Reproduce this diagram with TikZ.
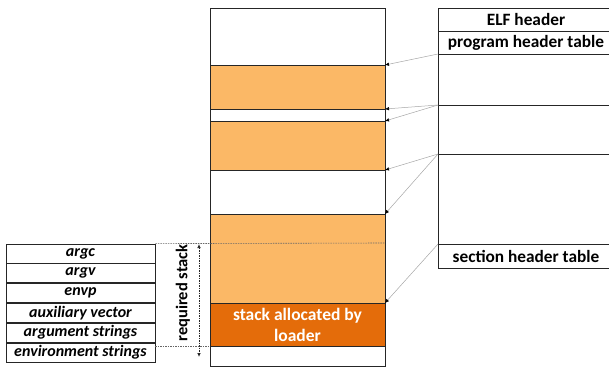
\documentclass[tikz,border=0pt]{standalone}
\usepackage{fontspec}
\setmainfont{Carlito}
\usepackage{xcolor}
\usetikzlibrary{positioning,arrows.meta}

\definecolor{segorange}{HTML}{FBB866}
\definecolor{stackorange}{HTML}{E46C0A}

\tikzset{
	seg/.style={draw=black!85, line width=0.8pt},
	loadseg/.style={seg, fill=segorange},
	maparrow/.style={draw=black!35, line width=0.5pt, -{Latex[length=4pt,width=3.5pt,color=black]}},
	stackline/.style={draw=black!60, line width=0.6pt, dash pattern=on 1.5pt off 1pt},
	auxrow/.style={draw=black!85, line width=0.8pt, minimum width=149pt, minimum height=19pt, inner sep=0pt,
		font=\fontsize{16}{18}\selectfont\bfseries\itshape},
	elflabel/.style={font=\fontsize{17.3}{19}\selectfont\bfseries},
}

\begin{document}
\begin{tikzpicture}[x=1pt,y=-1pt]
		\useasboundingbox (0,0) rectangle (609,367);
		% process image
		\draw[seg] (210,8) rectangle (385,366);
		\draw[loadseg] (210,65) rectangle (385,109);
		\draw[loadseg] (210,121) rectangle (385,170);
		\draw[loadseg] (210,214) rectangle (385,303);
		\draw[seg,fill=stackorange] (210,303) rectangle (385,346);
		\node[text=white,elflabel,align=center,font=\fontsize{17.5}{21}\selectfont\bfseries] (loader) at (297.5,325) {stack allocated by\\loader};
		\coordinate (m1) at (385,65);
		\coordinate (m2) at (385,109);
		\coordinate (m3) at (385,121);
		\coordinate (m4) at (385,170);
		\coordinate (m5) at (385,214);
		\coordinate (m6) at (385,303);
		% ELF file
		\draw[seg] (438,8) rectangle (624,268);
		\draw[seg] (438,31) -- (624,31);
		\draw[seg] (438,54) -- (624,54);
		\draw[seg] (438,105) -- (624,105);
		\draw[seg] (438,154) -- (624,154);
		\draw[seg] (438,244) -- (624,244);
		\node[elflabel] (elfhdr) at (526,19.5) {ELF header};
		\node[elflabel] (phdr) at (526,42.5) {program header table};
		\node[elflabel] (shdr) at (526,256) {section header table};
		\coordinate (f1) at (438,54);
		\coordinate (f2) at (438,105);
		\coordinate (f3) at (438,154);
		\coordinate (f4) at (438,244);
		\draw[maparrow] (f1) -- (m1);
		\draw[maparrow] (f2) -- (m2);
		\draw[maparrow] (f2) -- (m3);
		\draw[maparrow] (f3) -- (m4);
		\draw[maparrow] (f3) -- (m5);
		\draw[maparrow] (f4) -- (m6);
		% initial stack contents
		\node[auxrow] (argc) at (80.5,253.5) {argc};
		\node[auxrow,below=0pt of argc] (argv) {argv};
		\node[auxrow,below=0pt of argv] (envp) {envp};
		\node[auxrow,below=0pt of envp] (auxv) {auxiliary vector};
		\node[auxrow,below=0pt of auxv] (args) {argument strings};
		\node[auxrow,below=0pt of args] (envs) {environment strings};
		\coordinate (stacktop) at (385,243);
		\coordinate (stackbot) at (210,346);
		\draw[stackline] (argc.north east) -- (stacktop);
		\draw[stackline] (envs.east |- stackbot) -- (stackbot);
		\coordinate (reqtop) at (199,244);
		\coordinate (reqbot) at (199,357);
		\draw[stackline,draw=black!85,line width=0.7pt,{Latex[length=4pt,width=3.5pt]}-{Latex[length=4pt,width=3.5pt]}] (reqtop) -- (reqbot);
		\node[rotate=90,font=\fontsize{16.5}{18}\selectfont\bfseries] (req) at (183,293) {required stack};
	\end{tikzpicture}
\end{document}
